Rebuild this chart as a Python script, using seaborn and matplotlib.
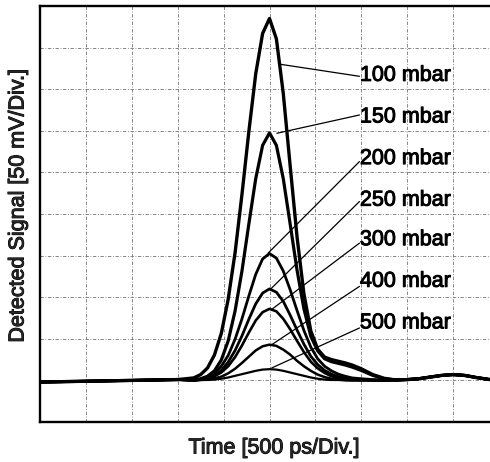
import numpy as np
import pandas as pd
import matplotlib
matplotlib.use("Agg")
import matplotlib.pyplot as plt
import matplotlib.patheffects as pe
import seaborn as sns

# time axis in divisions (500 ps/Div.), signal in divisions (50 mV/Div.)
base_left_t = [0.0, 0.5, 1.0, 1.5, 2.0, 2.5, 3.0]
base_left_v = [-0.04, -0.03, -0.02, -0.01, 0.0, 0.01, 0.02]
pulse_t = [3.35, 3.5, 3.65, 3.8, 3.95, 4.1, 4.25, 4.4, 4.55, 4.7, 4.85, 5.0,
           5.15, 5.3, 5.45, 5.6, 5.75, 5.9, 6.05, 6.2, 6.35, 6.5, 6.65, 6.8,
           7.0, 7.25, 7.5]
base_right_t = [7.75, 8.0, 8.25, 8.5, 8.75, 9.0, 9.25, 9.5, 9.8]
base_right_v = [0.01, 0.02, 0.04, 0.08, 0.12, 0.14, 0.12, 0.07, 0.02]

pressures = ["100 mbar", "150 mbar", "200 mbar", "250 mbar",
             "300 mbar", "400 mbar", "500 mbar"]

sig_100 = [0.06, 0.14, 0.30, 0.61, 1.13, 1.95, 3.07, 4.47, 5.98, 7.37, 8.34, 8.70,
           8.21, 6.90, 5.16, 3.45, 2.08, 1.19, 0.75, 0.56, 0.50, 0.46, 0.42, 0.37,
           0.28, 0.14, 0.05]
sig_150 = [0.01, 0.04, 0.10, 0.23, 0.49, 0.95, 1.67, 2.63, 3.76, 4.85, 5.65, 5.95,
           5.65, 4.85, 3.76, 2.65, 1.72, 1.06, 0.71, 0.52, 0.45, 0.41, 0.37, 0.32,
           0.24, 0.12, 0.04]
sig_200 = [0.01, 0.03, 0.08, 0.17, 0.34, 0.60, 0.99, 1.48, 2.03, 2.55, 2.92, 3.05,
           2.94, 2.63, 2.18, 1.68, 1.20, 0.80, 0.52, 0.34, 0.23, 0.15, 0.10, 0.06,
           0.04, 0.02, 0.01]
sig_250 = [0.01, 0.02, 0.06, 0.12, 0.24, 0.44, 0.72, 1.07, 1.47, 1.84, 2.10, 2.20,
           2.12, 1.90, 1.57, 1.21, 0.87, 0.58, 0.38, 0.24, 0.15, 0.09, 0.06, 0.04,
           0.02, 0.01, 0.0]
sig_300 = [0.0, 0.02, 0.04, 0.10, 0.19, 0.34, 0.56, 0.84, 1.15, 1.44, 1.64, 1.72,
           1.66, 1.48, 1.23, 0.95, 0.68, 0.45, 0.29, 0.18, 0.10, 0.06, 0.03, 0.02,
           0.01, 0.0, 0.0]
sig_400 = [0.0, 0.01, 0.02, 0.05, 0.09, 0.17, 0.28, 0.42, 0.57, 0.72, 0.82, 0.86,
           0.83, 0.74, 0.62, 0.47, 0.34, 0.23, 0.14, 0.08, 0.04, 0.02, 0.01, 0.0,
           0.0, 0.0, 0.0]
sig_500 = [0.0, 0.01, 0.01, 0.02, 0.04, 0.07, 0.11, 0.15, 0.19, 0.23, 0.26, 0.27,
           0.26, 0.23, 0.19, 0.15, 0.11, 0.07, 0.04, 0.02, 0.01, 0.01, 0.0, 0.0,
           0.0, 0.0, 0.0]
signals = [sig_100, sig_150, sig_200, sig_250, sig_300, sig_400, sig_500]

# label baselines and leader-line tips (divisions)
label_y = [7.2, 6.2, 5.2, 4.2, 3.25, 2.25, 1.25]
leader_start_y = [7.31, 6.38, 5.26, 4.30, 3.30, 2.26, 1.26]
leader_tip_x = [5.23, 5.16, 4.97, 5.01, 5.04, 5.05, 5.05]
leader_tip_y = [7.60, 5.94, 3.06, 2.18, 1.70, 0.86, 0.30]
curve_lw = [2.4, 2.3, 2.0, 2.0, 1.9, 1.8, 1.6]

rows = []
for name, sig in zip(pressures, signals):
    t_all = base_left_t + pulse_t + base_right_t
    v_all = base_left_v + sig + base_right_v
    for t, v in zip(t_all, v_all):
        rows.append({"pressure": name, "time": t, "signal": v})
df = pd.DataFrame(rows)

sns.set_style("white")
plt.rcParams["font.family"] = ["Liberation Sans", "DejaVu Sans"]

# 走査した原稿の太めの文字に寄せる
heavy = [pe.withStroke(linewidth=0.7, foreground="black")]

fig = plt.figure(figsize=(4.9, 4.62), dpi=100)
ax = fig.add_axes([40 / 490, 1 - 422 / 462, 450 / 490, 416 / 462])

for name, lw in zip(pressures, curve_lw):
    sns.lineplot(data=df[df["pressure"] == name], x="time", y="signal",
                 sort=False, estimator=None, color="black", linewidth=lw,
                 ax=ax, legend=False, zorder=3)

for name, ly, sy, tx, ty in zip(pressures, label_y, leader_start_y,
                                leader_tip_x, leader_tip_y):
    ax.plot([6.96, tx], [sy, ty], color="black", linewidth=0.9, zorder=2)
    ax.text(6.97, ly, name, fontsize=15.5, ha="left", va="baseline",
            color="black", zorder=4, path_effects=heavy)

ax.set_xlim(0, 450 / 45.9)
ax.set_ylim(-1, 9)
ax.set_xticks(range(1, 10))
ax.set_yticks(range(0, 9))
ax.tick_params(length=0, labelbottom=False, labelleft=False)
ax.grid(True, color="0.45", linewidth=0.6, linestyle=(0, (4, 2, 1, 2)))
ax.set_xlabel("")
ax.set_ylabel("")
for side in ["left", "top", "bottom"]:
    ax.spines[side].set_linewidth(1.7)
    ax.spines[side].set_color("black")
ax.spines["right"].set_visible(False)

fig.text(18 / 490, 1 - 206 / 462, "Detected Signal [50 mV/Div.]",
         rotation=90, fontsize=15.5, ha="center", va="center",
         path_effects=heavy)
fig.text(274 / 490, 1 - 448 / 462, "Time [500 ps/Div.]",
         fontsize=15.5, ha="center", va="center", path_effects=heavy)

fig.savefig("out.png", dpi=100)
